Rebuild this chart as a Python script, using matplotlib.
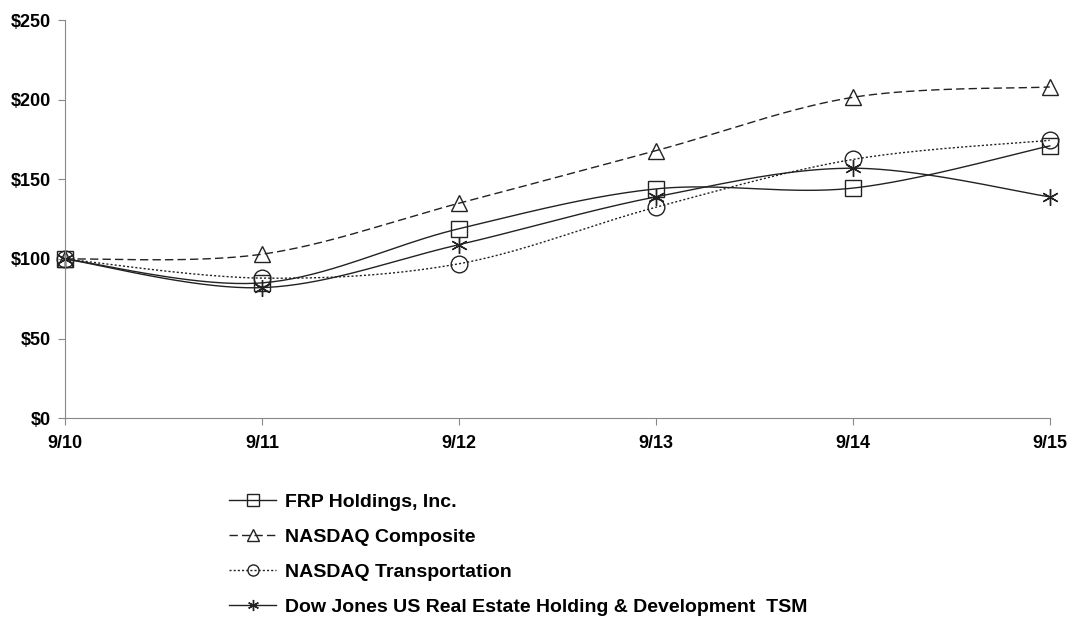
import numpy as np
import matplotlib
matplotlib.use('Agg')
import matplotlib.pyplot as plt

plt.rcParams['font.family'] = ['Liberation Sans', 'DejaVu Sans']
plt.rcParams['font.weight'] = 'bold'

# values
periods = ['9/10', '9/11', '9/12', '9/13', '9/14', '9/15']
frp = [100, 85, 119, 144, 144.5, 171]
nasdaq_comp = [100, 103, 135, 168, 201.5, 208]
nasdaq_trans = [100, 88, 97, 132.5, 162.5, 174.5]
dj_real_estate = [100, 82, 109, 139, 157, 139]

series_names = ['FRP Holdings, Inc.', 'NASDAQ Composite',
                'NASDAQ Transportation',
                'Dow Jones US Real Estate Holding & Development  TSM']


def smooth(xs, ys, n=40):
	# Excel-style smoothed line: bezier segments with catmull-rom control points
	xs = np.asarray(xs, float)
	ys = np.asarray(ys, float)
	pts = np.column_stack([xs, ys])
	out = []
	for i in range(len(pts) - 1):
		p0 = pts[max(i - 1, 0)]
		p1 = pts[i]
		p2 = pts[i + 1]
		p3 = pts[min(i + 2, len(pts) - 1)]
		c1 = p1 + (p2 - p0) / 6.0
		c2 = p2 - (p3 - p1) / 6.0
		t = np.linspace(0, 1, n)[:, None]
		seg = ((1 - t) ** 3) * p1 + 3 * ((1 - t) ** 2) * t * c1 + 3 * (1 - t) * t ** 2 * c2 + t ** 3 * p2
		out.append(seg if i == 0 else seg[1:])
	out = np.vstack(out)
	return out[:, 0], out[:, 1]


def main():
	fig = plt.figure(figsize=(10.71, 6.28), dpi=100)
	ax = fig.add_axes([0.0607, 0.334, 0.9195, 0.634])

	x = np.arange(len(periods))
	styles = [
		(frp, 's', '-', 1.0),
		(nasdaq_comp, '^', (0, (6, 3)), 1.0),
		(nasdaq_trans, 'o', (0, (1.5, 1.5)), 1.0),
		(dj_real_estate, (6, 2, 0), '-', 1.0),
	]
	handles = []
	for (vals, mk, ls, lw), name in zip(styles, series_names):
		sx, sy = smooth(x, vals)
		ax.plot(sx, sy, color='#222222', linestyle=ls, linewidth=lw, clip_on=False)
		ax.plot(x, vals, linestyle='none', marker=mk, markersize=12, clip_on=False,
		        markerfacecolor='none', markeredgecolor='#222222', markeredgewidth=1.0)
		h, = ax.plot([], [], color='#222222', linestyle=ls, linewidth=lw, marker=mk,
		             markersize=8, markerfacecolor='none', markeredgecolor='#222222',
		             markeredgewidth=1.0, label=name)
		handles.append(h)

	ax.set_xlim(0, len(periods) - 1)
	ax.set_ylim(0, 250)
	ax.set_xticks(x)
	ax.set_xticklabels(periods)
	ax.set_yticks(np.arange(0, 251, 50))
	ax.set_yticklabels(['${}'.format(v) for v in range(0, 251, 50)])
	for s in ['top', 'right']:
		ax.spines[s].set_visible(False)
	for s in ['left', 'bottom']:
		ax.spines[s].set_color('#888888')
	ax.tick_params(axis='both', colors='#888888', labelcolor='black', labelsize=13, length=5)
	ax.tick_params(axis='x', pad=7)
	ax.tick_params(axis='y', pad=5)
	for lbl in ax.get_xticklabels() + ax.get_yticklabels():
		lbl.set_fontweight('bold')

	fig.legend(handles=handles, loc='upper left', bbox_to_anchor=(0.207, 0.227),
	           frameon=False, fontsize=14, handlelength=2.4, handletextpad=0.45,
	           labelspacing=0.9, borderaxespad=0)

	fig.savefig('out.png', dpi=100)


if __name__ == '__main__':
	main()
